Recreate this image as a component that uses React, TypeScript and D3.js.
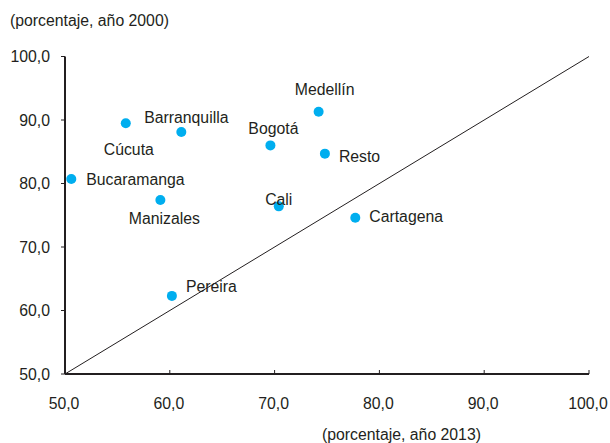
import * as d3 from 'd3';

// city, share in 2013 (x), share in 2000 (y)
const cities = ['Medellín', 'Barranquilla', 'Cúcuta', 'Bogotá', 'Resto', 'Bucaramanga', 'Manizales', 'Cali', 'Cartagena', 'Pereira'];
const x2013 = [74.2, 61.1, 55.8, 69.6, 74.8, 50.6, 59.1, 70.4, 77.7, 60.2];
const y2000 = [91.3, 88.1, 89.5, 86.0, 84.7, 80.7, 77.4, 76.4, 74.6, 62.3];
const xTicks = [50, 60, 70, 80, 90, 100];
const yTicks = [50, 60, 70, 80, 90, 100];

// label offsets relative to the dot (dx, dy, anchor)
const labelPos: [number, number, string][] = [
  [6, -17, 'middle'],
  [5, -9, 'middle'],
  [3, 32, 'middle'],
  [3, -11, 'middle'],
  [14, 8, 'start'],
  [15, 6, 'start'],
  [4, 24, 'middle'],
  [0, -1, 'middle'],
  [14, 4, 'start'],
  [14, -4, 'start'],
];

const fmt = (v: number) => v.toFixed(1).replace('.', ',');

export default function App() {
  const W = 610;
  const H = 443;
  const x = d3.scaleLinear().domain([50, 100]).range([65, 589]);
  const y = d3.scaleLinear().domain([50, 100]).range([374, 56.5]);
  const font = 'Liberation Sans, Arial, Helvetica, sans-serif';
  const ink = '#231f20';
  const fs = 15.8;

  return (
    <svg width={W} height={H} style={{ position: 'absolute', left: 0, top: 0 }} fontFamily={font}>
      <rect width={W} height={H} fill="#fff" />
      <text x={10} y={26} fontSize={fs} fill={ink}>(porcentaje, año 2000)</text>
      <text x={322} y={440} fontSize={fs} fill={ink}>(porcentaje, año 2013)</text>

      {/* diagonal 45° line */}
      <line x1={x(50)} y1={y(50)} x2={x(100)} y2={y(100)} stroke={ink} strokeWidth={1} />

      {/* y axis */}
      <line x1={x(50)} y1={y(50)} x2={x(50)} y2={y(100)} stroke={ink} strokeWidth={2} />
      {yTicks.map((t) => (
        <g key={'y' + t}>
          <line x1={x(50) - 4} x2={x(50)} y1={y(t)} y2={y(t)} stroke={ink} strokeWidth={1} />
          <text x={50} y={y(t) + 5.5} fontSize={fs} textAnchor="end" fill={ink}>{fmt(t)}</text>
        </g>
      ))}

      {/* x axis */}
      <line x1={x(50)} y1={y(50)} x2={x(100)} y2={y(50)} stroke={ink} strokeWidth={2} />
      {xTicks.map((t) => (
        <g key={'x' + t}>
          <line x1={x(t)} x2={x(t)} y1={y(50)} y2={y(50) - 4} stroke={ink} strokeWidth={1} />
          <text x={x(t) - 1} y={409} fontSize={fs} textAnchor="middle" fill={ink}>{fmt(t)}</text>
        </g>
      ))}

      {/* points */}
      {cities.map((c, i) => (
        <circle key={c} cx={x(x2013[i])} cy={y(y2000[i])} r={5} fill="#00aeef" />
      ))}
      {cities.map((c, i) => {
        const [dx, dy, anchor] = labelPos[i];
        return (
          <text key={'l' + c} x={x(x2013[i]) + dx} y={y(y2000[i]) + dy} fontSize={fs} textAnchor={anchor as any} fill={ink}>
            {c}
          </text>
        );
      })}
    </svg>
  );
}
